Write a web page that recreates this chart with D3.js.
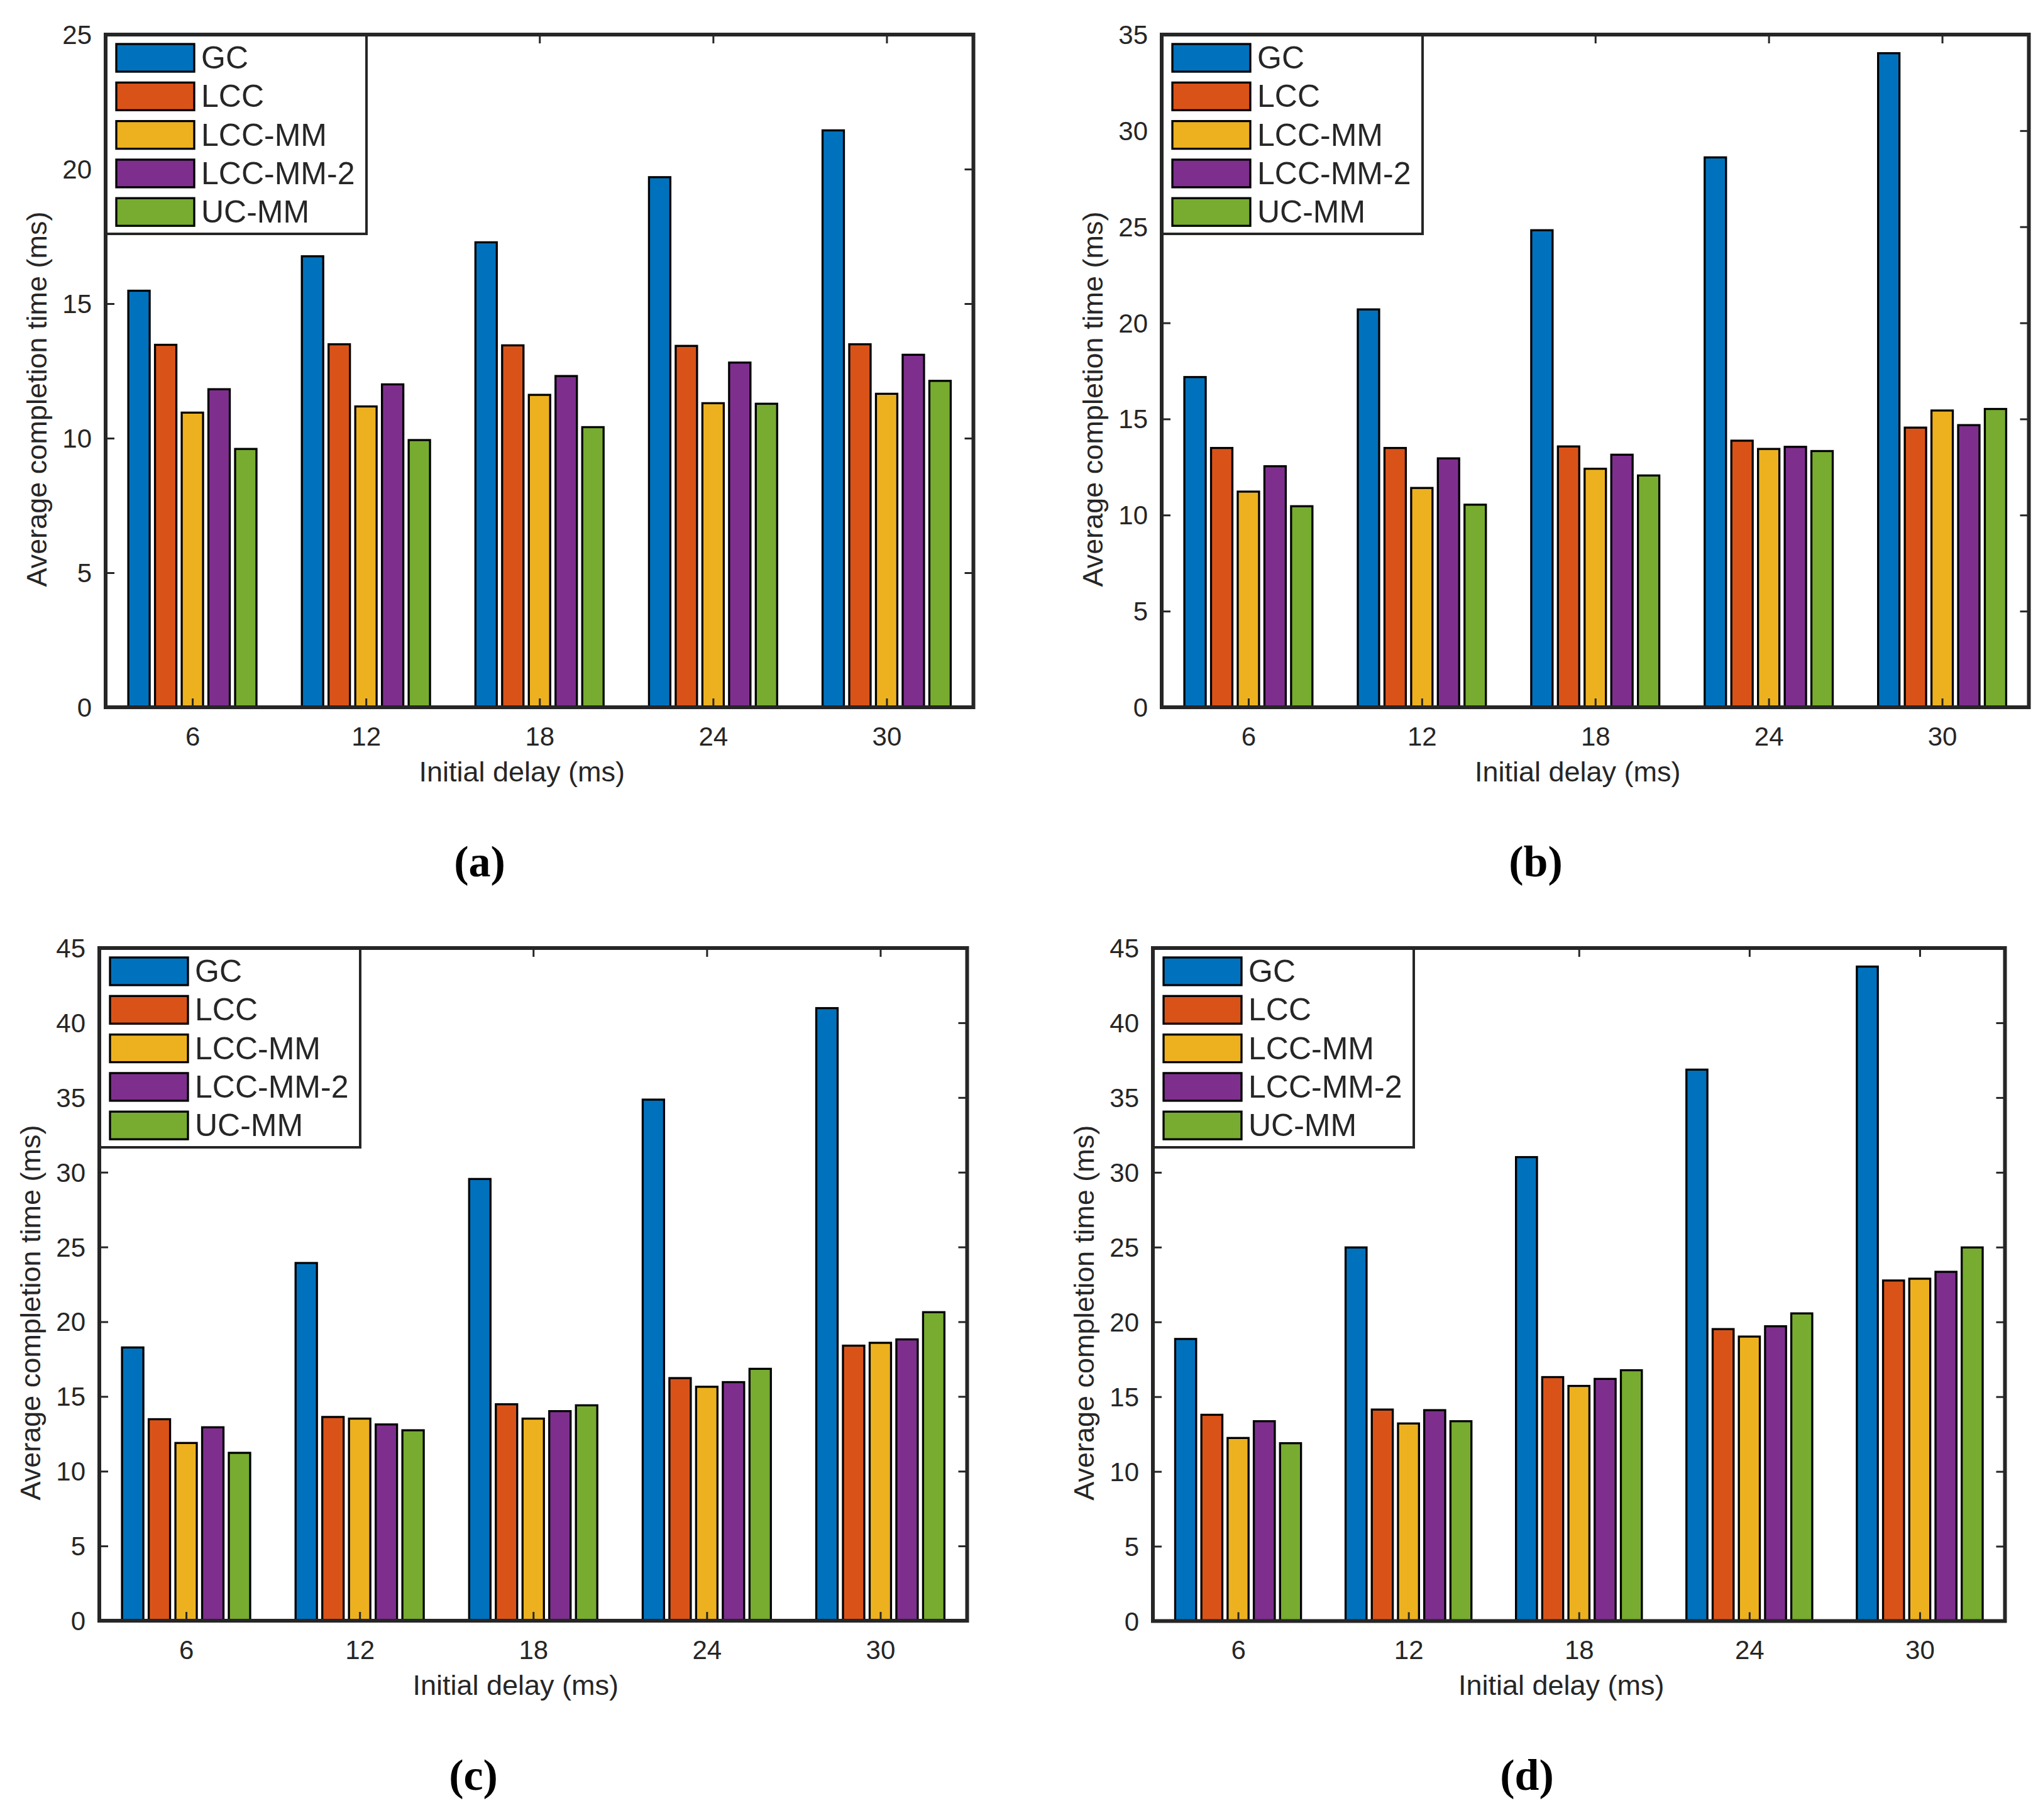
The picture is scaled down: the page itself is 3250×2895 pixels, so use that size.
<!DOCTYPE html>
<html>
<head>
<meta charset="utf-8">
<title>Average completion time</title>
<script src="https://cdn.jsdelivr.net/npm/d3@7"></script>
<style>
  body { margin: 0; background: #fff; }
  text { font-family: 'Liberation Sans', Arial, sans-serif; fill: #262626; }
  .caption { font-family: 'Liberation Serif', 'DejaVu Serif', serif; font-weight: bold; fill: #000; }
</style>
</head>
<body>
<div id="chart"></div>
<script>
// ---------- data ----------
var categories = [6, 12, 18, 24, 30];
var seriesNames = ["GC", "LCC", "LCC-MM", "LCC-MM-2", "UC-MM"];
var seriesColors = ["#0072BD", "#D95319", "#EDB120", "#7E2F8E", "#77AC30"];

// one row per series, one value per initial delay
var valuesA = [
  [15.48, 16.76, 17.28, 19.70, 21.44],
  [13.47, 13.49, 13.45, 13.43, 13.49],
  [10.95, 11.18, 11.61, 11.30, 11.65],
  [11.82, 12.00, 12.31, 12.81, 13.10],
  [9.60, 9.93, 10.41, 11.28, 12.13]
];
var valuesB = [
  [17.18, 20.70, 24.82, 28.61, 34.03],
  [13.49, 13.49, 13.57, 13.87, 14.55],
  [11.22, 11.41, 12.41, 13.44, 15.44],
  [12.54, 12.95, 13.14, 13.55, 14.68],
  [10.46, 10.54, 12.06, 13.33, 15.52]
];
var valuesC = [
  [18.28, 23.93, 29.55, 34.86, 40.98],
  [13.48, 13.63, 14.48, 16.23, 18.40],
  [11.89, 13.52, 13.52, 15.65, 18.59],
  [12.94, 13.13, 14.02, 15.96, 18.82],
  [11.23, 12.74, 14.41, 16.85, 20.64]
];
var valuesD = [
  [18.86, 24.98, 31.02, 36.87, 43.76],
  [13.79, 14.14, 16.31, 19.52, 22.77],
  [12.24, 13.21, 15.72, 19.02, 22.89],
  [13.36, 14.10, 16.19, 19.71, 23.35],
  [11.89, 13.36, 16.77, 20.57, 24.98]
];
var yTicksA = [0, 5, 10, 15, 20, 25];
var yTicksB = [0, 5, 10, 15, 20, 25, 30, 35];
var yTicksC = [0, 5, 10, 15, 20, 25, 30, 35, 40, 45];
var yTicksD = [0, 5, 10, 15, 20, 25, 30, 35, 40, 45];
var captions = ["(a)", "(b)", "(c)", "(d)"];
var xLabel = "Initial delay (ms)";
var yLabel = "Average completion time (ms)";

// ---------- layout ----------
var W = 3250, H = 2895;
var axisColor = "#262626";
var panels = [
  {values: valuesA, ticks: yTicksA, caption: captions[0], left: 168, top: 55, right: 1548.5, bottom: 1125},
  {values: valuesB, ticks: yTicksB, caption: captions[1], left: 1848, top: 55, right: 3227.5, bottom: 1125},
  {values: valuesC, ticks: yTicksC, caption: captions[2], left: 158, top: 1508, right: 1538.5, bottom: 2578},
  {values: valuesD, ticks: yTicksD, caption: captions[3], left: 1834, top: 1508, right: 3189.5, bottom: 2578.5}
];

var svg = d3.select("#chart").append("svg")
  .attr("width", W).attr("height", H);
svg.append("rect").attr("width", W).attr("height", H).attr("fill", "#fff");

// MATLAB grouped bar geometry
var nSeries = seriesNames.length;
var groupWidth = Math.min(0.8, nSeries / (nSeries + 1.5));
var pitch = groupWidth / nSeries;
var barW = pitch * 0.8;

panels.forEach(function(p) {
  var g = svg.append("g");

  var x = d3.scaleLinear().domain([0.5, categories.length + 0.5]).range([p.left, p.right]);
  var y = d3.scaleLinear().domain([0, d3.max(p.ticks)]).range([p.bottom, p.top]);

  // bars
  p.values.forEach(function(row, s) {
    g.selectAll(null)
      .data(row)
      .enter().append("rect")
      .attr("x", function(d, i) { return x(i + 1 + (s - (nSeries - 1) / 2) * pitch - barW / 2); })
      .attr("width", function(d, i) { return x(barW) - x(0); })
      .attr("y", function(d) { return y(d); })
      .attr("height", function(d) { return y(0) - y(d); })
      .attr("fill", seriesColors[s])
      .attr("stroke", "#000")
      .attr("stroke-width", 3.3);
  });

  // axes (inward ticks on all sides)
  var tickLen = 14;
  var xAxis = d3.axisBottom(x)
    .tickValues(d3.range(1, categories.length + 1))
    .tickFormat(function(d) { return categories[d - 1]; })
    .tickSizeInner(-tickLen).tickSizeOuter(0).tickPadding(46);
  var xTop = d3.axisTop(x)
    .tickValues(d3.range(1, categories.length + 1))
    .tickFormat("").tickSizeInner(-tickLen).tickSizeOuter(0);
  var yAxis = d3.axisLeft(y)
    .tickValues(p.ticks).tickFormat(d3.format("d"))
    .tickSizeInner(-tickLen).tickSizeOuter(0).tickPadding(22);
  var yRight = d3.axisRight(y)
    .tickValues(p.ticks).tickFormat("").tickSizeInner(-tickLen).tickSizeOuter(0);

  function style(sel) {
    sel.select(".domain").remove();
    sel.selectAll(".tick line").attr("stroke", axisColor).attr("stroke-width", 3);
    sel.selectAll(".tick text").attr("fill", axisColor)
      .style("font-family", "'Liberation Sans', Arial, sans-serif")
      .style("font-size", "42px");
  }
  g.append("g").attr("transform", "translate(0," + p.bottom + ")").call(xAxis).call(style)
    .selectAll(".tick text").attr("dy", null).attr("dominant-baseline", "central");
  g.append("g").attr("transform", "translate(0," + p.top + ")").call(xTop).call(style);
  g.append("g").attr("transform", "translate(" + p.left + ",0)").call(yAxis).call(style)
    .selectAll(".tick text").attr("dy", null).attr("dominant-baseline", "central");
  g.append("g").attr("transform", "translate(" + p.right + ",0)").call(yRight).call(style);

  // box
  g.append("rect")
    .attr("x", p.left).attr("y", p.top)
    .attr("width", p.right - p.left).attr("height", p.bottom - p.top)
    .attr("fill", "none").attr("stroke", axisColor).attr("stroke-width", 6);

  // axis labels
  g.append("text")
    .attr("x", (p.left + p.right) / 2 - 28).attr("y", p.bottom + 102)
    .attr("text-anchor", "middle").attr("dominant-baseline", "central")
    .style("font-size", "45px")
    .text(xLabel);
  var ylx = p.left - 110, yly = (p.top + p.bottom) / 2 + 45;
  g.append("text")
    .attr("transform", "translate(" + ylx + "," + yly + ") rotate(-90)")
    .attr("text-anchor", "middle").attr("dominant-baseline", "central")
    .style("font-size", "45px")
    .text(yLabel);

  // legend
  var leg = g.append("g").attr("transform", "translate(" + (p.left + 1) + "," + (p.top + 1) + ")");
  leg.append("rect")
    .attr("width", 414).attr("height", 316)
    .attr("fill", "#fff").attr("stroke", axisColor).attr("stroke-width", 4);
  seriesNames.forEach(function(name, s) {
    var ry = 14 + s * 61.3;
    leg.append("rect")
      .attr("x", 16).attr("y", ry).attr("width", 124).attr("height", 44)
      .attr("fill", seriesColors[s]).attr("stroke", "#000").attr("stroke-width", 3.3);
    leg.append("text")
      .attr("x", 151).attr("y", ry + 22)
      .attr("dominant-baseline", "central")
      .style("font-size", "50px").attr("fill", "#000")
      .text(name);
  });

  // caption
  g.append("text")
    .attr("class", "caption")
    .attr("x", p.left + 595).attr("y", p.bottom + 245)
    .attr("text-anchor", "middle").attr("dominant-baseline", "central")
    .style("font-size", "70px")
    .text(p.caption);
});
</script>
</body>
</html>
